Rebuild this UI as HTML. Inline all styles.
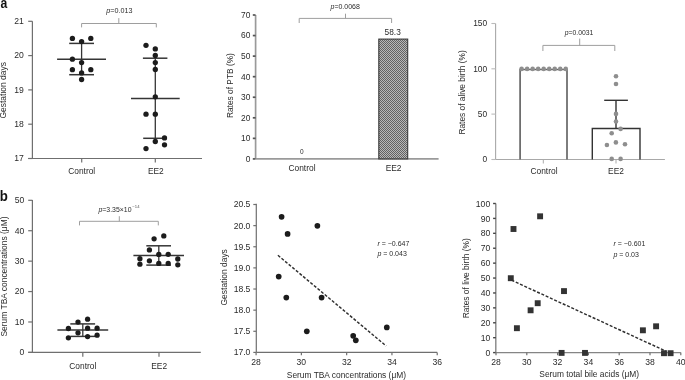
<!DOCTYPE html>
<html><head><meta charset="utf-8"><style>
html,body{margin:0;padding:0;background:#fff;}
body{width:685px;height:380px;overflow:hidden;}
svg{display:block;font-family:"Liberation Sans", sans-serif;will-change:transform;}
</style></head><body>
<svg width="685" height="380" viewBox="0 0 685 380">
<defs>
<pattern id="hatch" patternUnits="userSpaceOnUse" width="2" height="2">
<rect width="2" height="2" fill="#b8b8b8"/>
<rect width="1" height="1" fill="#626262"/>
<rect x="1" y="1" width="1" height="1" fill="#626262"/>
</pattern>
</defs>
<rect width="685" height="380" fill="#fff"/>
<text x="0" y="0" font-size="14.2" fill="#111" font-weight="bold" transform="translate(0.5,7.9) scale(0.86,1)">a</text>
<text x="0" y="0" font-size="14.4" fill="#111" font-weight="bold" transform="translate(-0.2,201) scale(0.92,1)">b</text>
<line x1="32.4" y1="21.3" x2="32.4" y2="158.5" stroke="#6f6f6f" stroke-width="1.2" />
<line x1="28.2" y1="21.3" x2="32.4" y2="21.3" stroke="#6f6f6f" stroke-width="1.2" />
<text x="23.9" y="24.196" font-size="8.6" text-anchor="end" fill="#2b2b2b" >21</text>
<line x1="28.2" y1="55.6" x2="32.4" y2="55.6" stroke="#6f6f6f" stroke-width="1.2" />
<text x="23.9" y="58.495999999999995" font-size="8.6" text-anchor="end" fill="#2b2b2b" >20</text>
<line x1="28.2" y1="89.9" x2="32.4" y2="89.9" stroke="#6f6f6f" stroke-width="1.2" />
<text x="23.9" y="92.796" font-size="8.6" text-anchor="end" fill="#2b2b2b" >19</text>
<line x1="28.2" y1="124.2" x2="32.4" y2="124.2" stroke="#6f6f6f" stroke-width="1.2" />
<text x="23.9" y="127.096" font-size="8.6" text-anchor="end" fill="#2b2b2b" >18</text>
<line x1="28.2" y1="158.5" x2="32.4" y2="158.5" stroke="#6f6f6f" stroke-width="1.2" />
<text x="23.9" y="161.39600000000002" font-size="8.6" text-anchor="end" fill="#2b2b2b" >17</text>
<line x1="28.2" y1="158.5" x2="202" y2="158.5" stroke="#6f6f6f" stroke-width="1.2" />
<line x1="81.7" y1="158.5" x2="81.7" y2="162.5" stroke="#6f6f6f" stroke-width="1.2" />
<line x1="155.3" y1="158.5" x2="155.3" y2="162.5" stroke="#6f6f6f" stroke-width="1.2" />
<text x="81.7" y="174" font-size="8.4" text-anchor="middle" fill="#2b2b2b" >Control</text>
<text x="155.8" y="174" font-size="8.4" text-anchor="middle" fill="#2b2b2b" >EE2</text>
<text x="0" y="0" font-size="8.48" text-anchor="middle" fill="#2b2b2b" transform="translate(6.1,90.3) rotate(-90)">Gestation days</text>
<polyline points="81.6,27.4 81.6,23.5 156.3,23.5 156.3,27.4" fill="none" stroke="#9e9e9e" stroke-width="1.0"/>
<line x1="118.8" y1="18.1" x2="118.8" y2="23.5" stroke="#9e9e9e" stroke-width="1.0" />
<text x="119.3" y="13.2" font-size="7.2" text-anchor="middle" fill="#2b2b2b" ><tspan font-style="italic">p</tspan>=0.013</text>
<line x1="57.1" y1="59.2" x2="106" y2="59.2" stroke="#353535" stroke-width="1.5" />
<line x1="69.2" y1="43.4" x2="94" y2="43.4" stroke="#353535" stroke-width="1.5" />
<line x1="69.2" y1="74.7" x2="94" y2="74.7" stroke="#353535" stroke-width="1.5" />
<line x1="81.6" y1="43.4" x2="81.6" y2="74.7" stroke="#353535" stroke-width="1.3" />
<circle cx="72.4" cy="38.4" r="2.65" fill="#1c1c1c"/>
<circle cx="90.8" cy="38.4" r="2.65" fill="#1c1c1c"/>
<circle cx="81.6" cy="41.6" r="2.65" fill="#1c1c1c"/>
<circle cx="72.4" cy="59.2" r="2.65" fill="#1c1c1c"/>
<circle cx="81.6" cy="62.6" r="2.65" fill="#1c1c1c"/>
<circle cx="72.4" cy="69.7" r="2.65" fill="#1c1c1c"/>
<circle cx="90.8" cy="69.7" r="2.65" fill="#1c1c1c"/>
<circle cx="81.6" cy="72.9" r="2.65" fill="#1c1c1c"/>
<circle cx="81.6" cy="79.5" r="2.65" fill="#1c1c1c"/>
<line x1="131" y1="98.4" x2="179.7" y2="98.4" stroke="#353535" stroke-width="1.5" />
<line x1="142.9" y1="58.2" x2="167.4" y2="58.2" stroke="#353535" stroke-width="1.5" />
<line x1="143.2" y1="138.3" x2="166.9" y2="138.3" stroke="#353535" stroke-width="1.5" />
<line x1="155.3" y1="58.2" x2="155.3" y2="138.3" stroke="#353535" stroke-width="1.3" />
<circle cx="146" cy="45.3" r="2.65" fill="#1c1c1c"/>
<circle cx="155.3" cy="48.9" r="2.65" fill="#1c1c1c"/>
<circle cx="155.3" cy="55.5" r="2.65" fill="#1c1c1c"/>
<circle cx="155.3" cy="62.6" r="2.65" fill="#1c1c1c"/>
<circle cx="155.3" cy="69.5" r="2.65" fill="#1c1c1c"/>
<circle cx="155.3" cy="96.8" r="2.65" fill="#1c1c1c"/>
<circle cx="146" cy="114.2" r="2.65" fill="#1c1c1c"/>
<circle cx="155.3" cy="114.2" r="2.65" fill="#1c1c1c"/>
<circle cx="164.5" cy="137.9" r="2.65" fill="#1c1c1c"/>
<circle cx="155.3" cy="141.5" r="2.65" fill="#1c1c1c"/>
<circle cx="164.5" cy="144.8" r="2.65" fill="#1c1c1c"/>
<circle cx="146" cy="148.6" r="2.65" fill="#1c1c1c"/>
<line x1="255.6" y1="15" x2="255.6" y2="159" stroke="#9a9a9a" stroke-width="1.7" />
<line x1="252.79999999999998" y1="15.0" x2="255.6" y2="15.0" stroke="#555" stroke-width="1.7" />
<text x="250.4" y="17.824" font-size="8.4" text-anchor="end" fill="#2b2b2b" >70</text>
<line x1="252.79999999999998" y1="35.56" x2="255.6" y2="35.56" stroke="#555" stroke-width="1.7" />
<text x="250.4" y="38.384" font-size="8.4" text-anchor="end" fill="#2b2b2b" >60</text>
<line x1="252.79999999999998" y1="56.12" x2="255.6" y2="56.12" stroke="#555" stroke-width="1.7" />
<text x="250.4" y="58.943999999999996" font-size="8.4" text-anchor="end" fill="#2b2b2b" >50</text>
<line x1="252.79999999999998" y1="76.67999999999999" x2="255.6" y2="76.67999999999999" stroke="#555" stroke-width="1.7" />
<text x="250.4" y="79.50399999999999" font-size="8.4" text-anchor="end" fill="#2b2b2b" >40</text>
<line x1="252.79999999999998" y1="97.24" x2="255.6" y2="97.24" stroke="#555" stroke-width="1.7" />
<text x="250.4" y="100.064" font-size="8.4" text-anchor="end" fill="#2b2b2b" >30</text>
<line x1="252.79999999999998" y1="117.8" x2="255.6" y2="117.8" stroke="#555" stroke-width="1.7" />
<text x="250.4" y="120.624" font-size="8.4" text-anchor="end" fill="#2b2b2b" >20</text>
<line x1="252.79999999999998" y1="138.35999999999999" x2="255.6" y2="138.35999999999999" stroke="#555" stroke-width="1.7" />
<text x="250.4" y="141.184" font-size="8.4" text-anchor="end" fill="#2b2b2b" >10</text>
<line x1="252.79999999999998" y1="158.92" x2="255.6" y2="158.92" stroke="#555" stroke-width="1.7" />
<text x="250.4" y="161.744" font-size="8.4" text-anchor="end" fill="#2b2b2b" >0</text>
<line x1="255.6" y1="158.9" x2="438.6" y2="158.9" stroke="#9a9a9a" stroke-width="1.7" />
<text x="302" y="170.5" font-size="8.4" text-anchor="middle" fill="#2b2b2b" >Control</text>
<text x="393.6" y="170.5" font-size="8.4" text-anchor="middle" fill="#2b2b2b" >EE2</text>
<text x="0" y="0" font-size="8.35" text-anchor="middle" fill="#2b2b2b" transform="translate(232.5,85.6) rotate(-90)">Rates of PTB (%)</text>
<text x="301.8" y="154" font-size="6.5" text-anchor="middle" fill="#2b2b2b" >0</text>
<rect x="378.8" y="39.1" width="28.9" height="119.8" fill="url(#hatch)" stroke="#3a3a3a" stroke-width="1.1"/>
<text x="392.7" y="35" font-size="8.3" text-anchor="middle" fill="#2b2b2b" >58.3</text>
<polyline points="299.2,23.0 299.2,18.4 391.6,18.4 391.6,23.0" fill="none" stroke="#9e9e9e" stroke-width="1.0"/>
<line x1="345.5" y1="13.7" x2="345.5" y2="18.4" stroke="#9e9e9e" stroke-width="1.0" />
<text x="345.2" y="9.0" font-size="7" text-anchor="middle" fill="#2b2b2b" ><tspan font-style="italic">p</tspan>=0.0068</text>
<line x1="495.6" y1="23.4" x2="495.6" y2="159.5" stroke="#a8a8a8" stroke-width="1.1" />
<line x1="491.40000000000003" y1="23.5" x2="495.6" y2="23.5" stroke="#bbb" stroke-width="1.1" />
<text x="487.2" y="26.324" font-size="8.4" text-anchor="end" fill="#2b2b2b" >150</text>
<line x1="491.40000000000003" y1="68.8" x2="495.6" y2="68.8" stroke="#bbb" stroke-width="1.1" />
<text x="487.2" y="71.624" font-size="8.4" text-anchor="end" fill="#2b2b2b" >100</text>
<line x1="491.40000000000003" y1="114.1" x2="495.6" y2="114.1" stroke="#bbb" stroke-width="1.1" />
<text x="487.2" y="116.92399999999999" font-size="8.4" text-anchor="end" fill="#2b2b2b" >50</text>
<line x1="491.40000000000003" y1="159.5" x2="495.6" y2="159.5" stroke="#bbb" stroke-width="1.1" />
<text x="487.2" y="162.324" font-size="8.4" text-anchor="end" fill="#2b2b2b" >0</text>
<line x1="495.6" y1="159.5" x2="664.9" y2="159.5" stroke="#a8a8a8" stroke-width="1.2" />
<line x1="543.3" y1="159.5" x2="543.3" y2="163.5" stroke="#aaa" stroke-width="1.0" />
<line x1="616" y1="159.5" x2="616" y2="163.5" stroke="#aaa" stroke-width="1.0" />
<text x="544" y="174.2" font-size="8.4" text-anchor="middle" fill="#2b2b2b" >Control</text>
<text x="616" y="174.2" font-size="8.4" text-anchor="middle" fill="#2b2b2b" >EE2</text>
<text x="0" y="0" font-size="8.35" text-anchor="middle" fill="#2b2b2b" transform="translate(465.4,92.4) rotate(-90)">Rates of alive birth (%)</text>
<polyline points="520.1,159.4 520.1,69.5 567,69.5 567,159.4" fill="none" stroke="#676767" stroke-width="1.7"/>
<polyline points="592.3,159.4 592.3,128.5 640,128.5 640,159.4" fill="none" stroke="#333" stroke-width="1.4"/>
<line x1="616" y1="100.3" x2="616" y2="128.5" stroke="#333" stroke-width="1.4" />
<line x1="604.2" y1="100.3" x2="627.9" y2="100.3" stroke="#333" stroke-width="1.4" />
<circle cx="521.6" cy="68.9" r="2.3" fill="#8e8e8e"/>
<circle cx="527.12" cy="68.9" r="2.3" fill="#8e8e8e"/>
<circle cx="532.64" cy="68.9" r="2.3" fill="#8e8e8e"/>
<circle cx="538.16" cy="68.9" r="2.3" fill="#8e8e8e"/>
<circle cx="543.6800000000001" cy="68.9" r="2.3" fill="#8e8e8e"/>
<circle cx="549.2" cy="68.9" r="2.3" fill="#8e8e8e"/>
<circle cx="554.72" cy="68.9" r="2.3" fill="#8e8e8e"/>
<circle cx="560.24" cy="68.9" r="2.3" fill="#8e8e8e"/>
<circle cx="565.76" cy="68.9" r="2.3" fill="#8e8e8e"/>
<circle cx="616" cy="76.3" r="2.3" fill="#8e8e8e"/>
<circle cx="616" cy="84" r="2.3" fill="#8e8e8e"/>
<circle cx="616" cy="113.9" r="2.3" fill="#8e8e8e"/>
<circle cx="616" cy="121.5" r="2.3" fill="#8e8e8e"/>
<circle cx="620.6" cy="128.9" r="2.3" fill="#8e8e8e"/>
<circle cx="611.7" cy="133.2" r="2.3" fill="#8e8e8e"/>
<circle cx="606.9" cy="145" r="2.3" fill="#8e8e8e"/>
<circle cx="615.9" cy="142.4" r="2.3" fill="#8e8e8e"/>
<circle cx="625" cy="144.2" r="2.3" fill="#8e8e8e"/>
<circle cx="611.7" cy="158.9" r="2.3" fill="#8e8e8e"/>
<circle cx="620.6" cy="158.9" r="2.3" fill="#8e8e8e"/>
<polyline points="542.9,51.0 542.9,45.4 614.8,45.4 614.8,51.0" fill="none" stroke="#9e9e9e" stroke-width="1.0"/>
<line x1="579.7" y1="38.6" x2="579.7" y2="45.4" stroke="#9e9e9e" stroke-width="1.0" />
<text x="579" y="34.8" font-size="6.8" text-anchor="middle" fill="#2b2b2b" ><tspan font-style="italic">p</tspan>=0.0031</text>
<line x1="32.4" y1="200" x2="32.4" y2="352.4" stroke="#6f6f6f" stroke-width="1.2" />
<line x1="28.2" y1="200.3" x2="32.4" y2="200.3" stroke="#6f6f6f" stroke-width="1.2" />
<text x="24.2" y="203.19600000000003" font-size="8.6" text-anchor="end" fill="#2b2b2b" >50</text>
<line x1="28.2" y1="230.72000000000003" x2="32.4" y2="230.72000000000003" stroke="#6f6f6f" stroke-width="1.2" />
<text x="24.2" y="233.61600000000004" font-size="8.6" text-anchor="end" fill="#2b2b2b" >40</text>
<line x1="28.2" y1="261.14" x2="32.4" y2="261.14" stroke="#6f6f6f" stroke-width="1.2" />
<text x="24.2" y="264.036" font-size="8.6" text-anchor="end" fill="#2b2b2b" >30</text>
<line x1="28.2" y1="291.56" x2="32.4" y2="291.56" stroke="#6f6f6f" stroke-width="1.2" />
<text x="24.2" y="294.456" font-size="8.6" text-anchor="end" fill="#2b2b2b" >20</text>
<line x1="28.2" y1="321.98" x2="32.4" y2="321.98" stroke="#6f6f6f" stroke-width="1.2" />
<text x="24.2" y="324.87600000000003" font-size="8.6" text-anchor="end" fill="#2b2b2b" >10</text>
<line x1="28.2" y1="352.40000000000003" x2="32.4" y2="352.40000000000003" stroke="#6f6f6f" stroke-width="1.2" />
<text x="24.2" y="355.29600000000005" font-size="8.6" text-anchor="end" fill="#2b2b2b" >0</text>
<line x1="28.2" y1="352.4" x2="200.8" y2="352.4" stroke="#6f6f6f" stroke-width="1.2" />
<line x1="82.8" y1="352.4" x2="82.8" y2="356.8" stroke="#6f6f6f" stroke-width="1.2" />
<line x1="159.0" y1="352.4" x2="159.0" y2="356.8" stroke="#6f6f6f" stroke-width="1.2" />
<text x="82.8" y="368.6" font-size="8.4" text-anchor="middle" fill="#2b2b2b" >Control</text>
<text x="159.2" y="368.6" font-size="8.4" text-anchor="middle" fill="#2b2b2b" >EE2</text>
<text x="0" y="0" font-size="8.45" text-anchor="middle" fill="#2b2b2b" transform="translate(6.6,276.5) rotate(-90)">Serum TBA concentrations (μM)</text>
<polyline points="79.5,225.4 79.5,221.3 158.3,221.3 158.3,225.4" fill="none" stroke="#9e9e9e" stroke-width="1.0"/>
<line x1="119.3" y1="216.20000000000002" x2="119.3" y2="221.3" stroke="#9e9e9e" stroke-width="1.0" />
<text x="98.5" y="211.6" font-size="6.9" text-anchor="start" fill="#2b2b2b" ><tspan font-style="italic">p</tspan>=3.35×10<tspan font-size="4.2" dx="0.9" dy="-3.2" fill="#555">−14</tspan></text>
<line x1="57.4" y1="329.9" x2="108.2" y2="329.9" stroke="#353535" stroke-width="1.5" />
<line x1="70.3" y1="323.9" x2="95.1" y2="323.9" stroke="#353535" stroke-width="1.5" />
<line x1="70.3" y1="336.4" x2="95.1" y2="336.4" stroke="#353535" stroke-width="1.5" />
<line x1="82.8" y1="323.9" x2="82.8" y2="336.4" stroke="#353535" stroke-width="1.3" />
<circle cx="78" cy="322.1" r="2.65" fill="#1c1c1c"/>
<circle cx="87.6" cy="319.2" r="2.65" fill="#1c1c1c"/>
<circle cx="68.4" cy="328.5" r="2.65" fill="#1c1c1c"/>
<circle cx="78" cy="332.8" r="2.65" fill="#1c1c1c"/>
<circle cx="87.6" cy="328.2" r="2.65" fill="#1c1c1c"/>
<circle cx="97.1" cy="328.2" r="2.65" fill="#1c1c1c"/>
<circle cx="68.4" cy="337.8" r="2.65" fill="#1c1c1c"/>
<circle cx="87.6" cy="336.6" r="2.65" fill="#1c1c1c"/>
<circle cx="97.1" cy="335.2" r="2.65" fill="#1c1c1c"/>
<line x1="133.4" y1="255.4" x2="184" y2="255.4" stroke="#353535" stroke-width="1.5" />
<line x1="146.3" y1="245.8" x2="171" y2="245.8" stroke="#353535" stroke-width="1.5" />
<line x1="146.3" y1="265.1" x2="171" y2="265.1" stroke="#353535" stroke-width="1.5" />
<line x1="158.8" y1="245.8" x2="158.8" y2="265.1" stroke="#353535" stroke-width="1.3" />
<circle cx="154.1" cy="238.8" r="2.65" fill="#1c1c1c"/>
<circle cx="163.8" cy="235.9" r="2.65" fill="#1c1c1c"/>
<circle cx="149.4" cy="249.9" r="2.65" fill="#1c1c1c"/>
<circle cx="158.8" cy="254.4" r="2.65" fill="#1c1c1c"/>
<circle cx="168.2" cy="254.3" r="2.65" fill="#1c1c1c"/>
<circle cx="139.9" cy="258.7" r="2.65" fill="#1c1c1c"/>
<circle cx="149.4" cy="260.8" r="2.65" fill="#1c1c1c"/>
<circle cx="177.8" cy="259" r="2.65" fill="#1c1c1c"/>
<circle cx="139.9" cy="264.2" r="2.65" fill="#1c1c1c"/>
<circle cx="158.8" cy="263.4" r="2.65" fill="#1c1c1c"/>
<circle cx="168.2" cy="263.4" r="2.65" fill="#1c1c1c"/>
<circle cx="177.8" cy="264.8" r="2.65" fill="#1c1c1c"/>
<line x1="256.3" y1="203.7" x2="256.3" y2="352.4" stroke="#6f6f6f" stroke-width="1.2" />
<line x1="253.3" y1="204.5" x2="256.3" y2="204.5" stroke="#6f6f6f" stroke-width="1.2" />
<text x="250.4" y="207.39600000000002" font-size="8.6" text-anchor="end" fill="#2b2b2b" >20.5</text>
<line x1="253.3" y1="225.63" x2="256.3" y2="225.63" stroke="#6f6f6f" stroke-width="1.2" />
<text x="250.4" y="228.526" font-size="8.6" text-anchor="end" fill="#2b2b2b" >20.0</text>
<line x1="253.3" y1="246.76" x2="256.3" y2="246.76" stroke="#6f6f6f" stroke-width="1.2" />
<text x="250.4" y="249.656" font-size="8.6" text-anchor="end" fill="#2b2b2b" >19.5</text>
<line x1="253.3" y1="267.89" x2="256.3" y2="267.89" stroke="#6f6f6f" stroke-width="1.2" />
<text x="250.4" y="270.786" font-size="8.6" text-anchor="end" fill="#2b2b2b" >19.0</text>
<line x1="253.3" y1="289.02" x2="256.3" y2="289.02" stroke="#6f6f6f" stroke-width="1.2" />
<text x="250.4" y="291.916" font-size="8.6" text-anchor="end" fill="#2b2b2b" >18.5</text>
<line x1="253.3" y1="310.15" x2="256.3" y2="310.15" stroke="#6f6f6f" stroke-width="1.2" />
<text x="250.4" y="313.046" font-size="8.6" text-anchor="end" fill="#2b2b2b" >18.0</text>
<line x1="253.3" y1="331.28" x2="256.3" y2="331.28" stroke="#6f6f6f" stroke-width="1.2" />
<text x="250.4" y="334.176" font-size="8.6" text-anchor="end" fill="#2b2b2b" >17.5</text>
<line x1="253.3" y1="352.40999999999997" x2="256.3" y2="352.40999999999997" stroke="#6f6f6f" stroke-width="1.2" />
<text x="250.4" y="355.306" font-size="8.6" text-anchor="end" fill="#2b2b2b" >17.0</text>
<line x1="256.3" y1="352.4" x2="437.2" y2="352.4" stroke="#6f6f6f" stroke-width="1.2" />
<line x1="256.1" y1="352.4" x2="256.1" y2="355.2" stroke="#6f6f6f" stroke-width="1.2" />
<text x="256.1" y="365.1" font-size="8.6" text-anchor="middle" fill="#2b2b2b" >28</text>
<line x1="301.38" y1="352.4" x2="301.38" y2="355.2" stroke="#6f6f6f" stroke-width="1.2" />
<text x="301.38" y="365.1" font-size="8.6" text-anchor="middle" fill="#2b2b2b" >30</text>
<line x1="346.66" y1="352.4" x2="346.66" y2="355.2" stroke="#6f6f6f" stroke-width="1.2" />
<text x="346.66" y="365.1" font-size="8.6" text-anchor="middle" fill="#2b2b2b" >32</text>
<line x1="391.94000000000005" y1="352.4" x2="391.94000000000005" y2="355.2" stroke="#6f6f6f" stroke-width="1.2" />
<text x="391.94000000000005" y="365.1" font-size="8.6" text-anchor="middle" fill="#2b2b2b" >34</text>
<line x1="437.22" y1="352.4" x2="437.22" y2="355.2" stroke="#6f6f6f" stroke-width="1.2" />
<text x="437.22" y="365.1" font-size="8.6" text-anchor="middle" fill="#2b2b2b" >36</text>
<text x="346.4" y="378" font-size="8.4" text-anchor="middle" fill="#2b2b2b" >Serum TBA concentrations (μM)</text>
<text x="0" y="0" font-size="8.45" text-anchor="middle" fill="#2b2b2b" transform="translate(227,277.3) rotate(-90)">Gestation days</text>
<circle cx="281.6" cy="216.8" r="2.85" fill="#1c1c1c"/>
<circle cx="287.6" cy="233.9" r="2.85" fill="#1c1c1c"/>
<circle cx="317.4" cy="225.8" r="2.85" fill="#1c1c1c"/>
<circle cx="278.7" cy="276.6" r="2.85" fill="#1c1c1c"/>
<circle cx="286.3" cy="297.6" r="2.85" fill="#1c1c1c"/>
<circle cx="321.6" cy="297.6" r="2.85" fill="#1c1c1c"/>
<circle cx="306.8" cy="331.3" r="2.85" fill="#1c1c1c"/>
<circle cx="353.2" cy="335.8" r="2.85" fill="#1c1c1c"/>
<circle cx="355.8" cy="340.3" r="2.85" fill="#1c1c1c"/>
<circle cx="386.8" cy="327.4" r="2.85" fill="#1c1c1c"/>
<line x1="277.9" y1="255.3" x2="386.2" y2="346" stroke="#2e2e2e" stroke-width="1.45" stroke-dasharray="3,1.7"/>
<text x="377.4" y="245.8" font-size="7" text-anchor="start" fill="#2b2b2b" ><tspan font-style="italic">r</tspan> = −0.647</text>
<text x="377.4" y="256.2" font-size="7" text-anchor="start" fill="#2b2b2b" ><tspan font-style="italic">p</tspan> = 0.043</text>
<line x1="495.8" y1="203.5" x2="495.8" y2="352.6" stroke="#858585" stroke-width="1.4" />
<line x1="493.1" y1="203.5" x2="495.8" y2="203.5" stroke="#444" stroke-width="1.4" />
<text x="490.2" y="206.596" font-size="8.6" text-anchor="end" fill="#2b2b2b" >100</text>
<line x1="493.1" y1="218.41" x2="495.8" y2="218.41" stroke="#444" stroke-width="1.4" />
<text x="490.2" y="221.506" font-size="8.6" text-anchor="end" fill="#2b2b2b" >90</text>
<line x1="493.1" y1="233.32" x2="495.8" y2="233.32" stroke="#444" stroke-width="1.4" />
<text x="490.2" y="236.416" font-size="8.6" text-anchor="end" fill="#2b2b2b" >80</text>
<line x1="493.1" y1="248.23000000000002" x2="495.8" y2="248.23000000000002" stroke="#444" stroke-width="1.4" />
<text x="490.2" y="251.32600000000002" font-size="8.6" text-anchor="end" fill="#2b2b2b" >70</text>
<line x1="493.1" y1="263.14" x2="495.8" y2="263.14" stroke="#444" stroke-width="1.4" />
<text x="490.2" y="266.236" font-size="8.6" text-anchor="end" fill="#2b2b2b" >60</text>
<line x1="493.1" y1="278.05" x2="495.8" y2="278.05" stroke="#444" stroke-width="1.4" />
<text x="490.2" y="281.146" font-size="8.6" text-anchor="end" fill="#2b2b2b" >50</text>
<line x1="493.1" y1="292.96000000000004" x2="495.8" y2="292.96000000000004" stroke="#444" stroke-width="1.4" />
<text x="490.2" y="296.05600000000004" font-size="8.6" text-anchor="end" fill="#2b2b2b" >40</text>
<line x1="493.1" y1="307.87" x2="495.8" y2="307.87" stroke="#444" stroke-width="1.4" />
<text x="490.2" y="310.966" font-size="8.6" text-anchor="end" fill="#2b2b2b" >30</text>
<line x1="493.1" y1="322.78" x2="495.8" y2="322.78" stroke="#444" stroke-width="1.4" />
<text x="490.2" y="325.876" font-size="8.6" text-anchor="end" fill="#2b2b2b" >20</text>
<line x1="493.1" y1="337.69" x2="495.8" y2="337.69" stroke="#444" stroke-width="1.4" />
<text x="490.2" y="340.786" font-size="8.6" text-anchor="end" fill="#2b2b2b" >10</text>
<line x1="493.1" y1="352.6" x2="495.8" y2="352.6" stroke="#444" stroke-width="1.4" />
<text x="490.2" y="355.696" font-size="8.6" text-anchor="end" fill="#2b2b2b" >0</text>
<line x1="495.8" y1="352.6" x2="680.8" y2="352.6" stroke="#858585" stroke-width="1.4" />
<line x1="496.0" y1="352.4" x2="496.0" y2="355.2" stroke="#6f6f6f" stroke-width="1.2" />
<text x="496.0" y="365.1" font-size="8.6" text-anchor="middle" fill="#2b2b2b" >28</text>
<line x1="526.8" y1="352.4" x2="526.8" y2="355.2" stroke="#6f6f6f" stroke-width="1.2" />
<text x="526.8" y="365.1" font-size="8.6" text-anchor="middle" fill="#2b2b2b" >30</text>
<line x1="557.6" y1="352.4" x2="557.6" y2="355.2" stroke="#6f6f6f" stroke-width="1.2" />
<text x="557.6" y="365.1" font-size="8.6" text-anchor="middle" fill="#2b2b2b" >32</text>
<line x1="588.4" y1="352.4" x2="588.4" y2="355.2" stroke="#6f6f6f" stroke-width="1.2" />
<text x="588.4" y="365.1" font-size="8.6" text-anchor="middle" fill="#2b2b2b" >34</text>
<line x1="619.2" y1="352.4" x2="619.2" y2="355.2" stroke="#6f6f6f" stroke-width="1.2" />
<text x="619.2" y="365.1" font-size="8.6" text-anchor="middle" fill="#2b2b2b" >36</text>
<line x1="650.0" y1="352.4" x2="650.0" y2="355.2" stroke="#6f6f6f" stroke-width="1.2" />
<text x="650.0" y="365.1" font-size="8.6" text-anchor="middle" fill="#2b2b2b" >38</text>
<line x1="680.8" y1="352.4" x2="680.8" y2="355.2" stroke="#6f6f6f" stroke-width="1.2" />
<text x="680.8" y="365.1" font-size="8.6" text-anchor="middle" fill="#2b2b2b" >40</text>
<text x="589.2" y="376.8" font-size="8.4" text-anchor="middle" fill="#2b2b2b" >Serum total bile acids (μM)</text>
<text x="0" y="0" font-size="8.4" text-anchor="middle" fill="#2b2b2b" transform="translate(469,278.3) rotate(-90)">Rates of live birth (%)</text>
<rect x="510.55" y="226.05" width="5.9" height="5.9" fill="#333"/>
<rect x="537.15" y="213.35" width="5.9" height="5.9" fill="#333"/>
<rect x="507.85" y="275.25" width="5.9" height="5.9" fill="#333"/>
<rect x="561.05" y="288.15" width="5.9" height="5.9" fill="#333"/>
<rect x="534.75" y="300.25" width="5.9" height="5.9" fill="#333"/>
<rect x="527.65" y="307.35" width="5.9" height="5.9" fill="#333"/>
<rect x="513.95" y="325.25" width="5.9" height="5.9" fill="#333"/>
<rect x="558.65" y="349.95" width="5.9" height="5.9" fill="#333"/>
<rect x="582.05" y="349.95" width="5.9" height="5.9" fill="#333"/>
<rect x="639.95" y="327.35" width="5.9" height="5.9" fill="#333"/>
<rect x="653.15" y="323.35" width="5.9" height="5.9" fill="#333"/>
<rect x="661.05" y="350.25" width="5.9" height="5.9" fill="#333"/>
<rect x="667.65" y="350.25" width="5.9" height="5.9" fill="#333"/>
<line x1="511.5" y1="280.2" x2="666" y2="351.2" stroke="#2e2e2e" stroke-width="1.45" stroke-dasharray="3,1.7"/>
<text x="613.4" y="246.2" font-size="7" text-anchor="start" fill="#2b2b2b" ><tspan font-style="italic">r</tspan> = −0.601</text>
<text x="613.4" y="256.6" font-size="7" text-anchor="start" fill="#2b2b2b" ><tspan font-style="italic">p</tspan> = 0.03</text>
</svg>
</body></html>
